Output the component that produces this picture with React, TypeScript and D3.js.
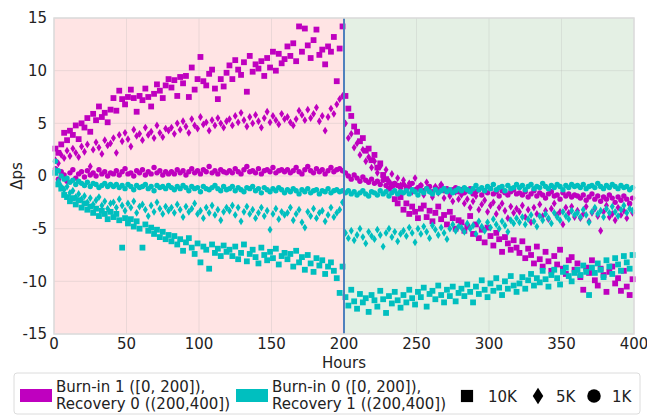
import React from "react";
import * as d3 from "d3";

// Sampling times (hours), one sample every 2 hours
const HOURS: number[] = d3.range(1, 400, 2);

const X_TICKS = [0, 50, 100, 150, 200, 250, 300, 350, 400];
const Y_TICKS = [15, 10, 5, 0, -5, -10, -15];

// Burn-in 1 ([0,200]), Recovery 0 ((200,400]) — magenta
const MAG_10K = [
  2.6, 2.2, 3.0, 4.1, 3.4, 4.3, 3.9, 4.8, 3.5, 5.0, 4.6, 5.5, 4.2, 5.9, 5.3, 6.6, 5.6, 6.0, 5.1, 6.3,
  7.4, 6.2, 8.1, 7.3, 6.8, 7.5, 8.2, 7.4, 6.1, 7.6, 7.2, 8.3, 7.5, 6.6, 7.8, 8.7, 8.1, 7.4, 8.6, 9.2,
  8.4, 9.1, 7.6, 9.4, 8.8, 9.5, 7.5, 10.3, 8.2, 9.2, 11.3, 9.0, 8.6, 9.7, 10.1, 8.3, 7.3, 9.2, 8.5, 9.8,
  10.5, 9.2, 11.0, 10.1, 9.6, 10.8, 8.0, 11.4, 9.9, 10.6, 10.2, 10.9, 9.5, 11.2, 10.3, 11.8, 10.0, 11.6, 10.7, 11.1,
  12.3, 11.4, 12.6, 10.9, 14.2, 11.8, 14.0, 12.4, 11.2, 12.9, 13.9, 11.5, 12.0, 10.6, 12.3, 11.8, 13.2, 9.0, 12.1, 14.2,
  7.6, 6.4, 5.7, 4.7, 4.2, 3.3, 3.6, 2.4, 2.6, 1.5, 2.0, 0.8, 1.2, 0.1, -0.3, -1.2, -0.8, -2.2, -2.6, -2.0,
  -3.2, -2.6, -3.6, -2.9, -3.4, -4.0, -3.1, -2.8, -3.9, -3.3, -4.3, -3.5, -2.9, -4.1, -3.7, -4.6, -3.4, -4.0, -5.0, -4.2,
  -4.4, -5.2, -4.8, -3.8, -5.5, -4.6, -5.9, -5.1, -6.3, -4.9, -5.7, -6.6, -5.4, -6.0, -7.2, -5.8, -6.4, -7.0, -6.1, -6.8,
  -7.3, -6.2, -7.8, -6.9, -7.5, -8.3, -6.7, -7.9, -8.6, -7.2, -8.1, -9.0, -7.6, -8.4, -7.0, -8.8, -9.3, -8.0, -7.7, -8.9,
  -8.3, -9.6, -10.8, -8.7, -9.2, -8.0, -9.9, -10.4, -8.8, -9.4, -11.0, -9.1, -8.6, -10.2, -9.7, -10.9, -9.0, -10.5, -11.3, -9.8,
];

const MAG_5K = [
  1.5, 1.2, 2.0, 1.7, 2.4, 1.9, 2.6, 2.2, 1.8, 2.8, 2.3, 3.0, 0.9, 2.5, 3.2, 2.7, 2.1, 3.4, 2.9, 3.1,
  3.6, 2.2, 3.9, 3.3, 4.1, 3.5, 2.8, 4.4, 3.8, 4.0, 3.4, 4.6, 3.9, 4.2, 3.6, 4.8, 4.1, 3.7, 4.5, 4.3,
  4.6, 4.0, 5.0, 4.4, 5.2, 4.7, 4.1, 5.4, 4.8, 4.5, 5.6, 4.9, 5.1, 4.3, 5.3, 4.8, 5.5, 5.0, 4.6, 5.2,
  5.4, 4.8, 5.7, 5.1, 6.0, 5.3, 4.7, 5.6, 5.0, 5.8, 5.2, 4.6, 5.5, 6.1, 5.1, 5.7, 5.3, 4.9, 5.9, 5.4,
  5.6, 5.1, 4.8, 5.4, 6.2, 5.8, 5.3, 6.3, 5.5, 5.9, 6.5, 5.2, 5.7, 4.3, 5.6, 6.4, 5.9, 6.8, 7.3, 7.6,
  5.0, 3.6, 4.0, 2.7, 3.1, 2.0, 2.5, 1.4, 1.8, 0.8, 1.4, 0.3, 0.9, -0.1, 0.6, -0.5, 0.2, -0.8, -0.2, -0.9,
  -0.4, -1.1, -0.7, -1.5, -0.2, -1.2, -0.9, -1.8, -0.6, -1.4, -2.0, -1.0, -1.6, -0.8, -2.1, -1.3, -1.9, -2.4, -1.5, -2.2,
  -1.8, -2.6, -2.2, -3.0, -2.4, -1.9, -3.2, -2.7, -2.3, -3.4, -2.8, -2.5, -3.6, -3.0, -2.6, -3.3, -4.0, -2.9, -3.5, -3.1,
  -3.4, -2.8, -3.9, -3.2, -4.4, -3.0, -3.6, -2.7, -3.8, -3.3, -4.1, -3.1, -2.6, -3.7, -3.4, -4.6, -3.0, -3.5, -2.9, -3.9,
  -3.3, -4.0, -3.6, -2.9, -4.3, -3.5, -3.1, -3.8, -5.2, -3.4, -2.8, -3.9, -3.6, -4.2, -3.0, -3.7, -3.3, -4.0, -2.7, -3.5,
];

const MAG_1K = [
  0.7, -0.3, 0.4, 0.1, -0.5, 0.3, 0.6, -0.2, 0.2, 0.4, -0.1, 0.5, 0.1, 0.3, 0.0, 0.6, 0.2, 0.4, 0.0, 0.3,
  0.2, 0.5, 0.1, 0.4, 0.7, 0.2, 0.3, 0.0, 0.5, 0.3, 0.6, 0.1, 0.4, 0.2, 0.8, 0.3, 0.5, 0.1, 0.4, 0.2,
  0.4, 0.2, 0.6, 0.3, 0.5, 0.1, 0.4, 0.7, 0.3, 0.5, 0.2, 0.6, 0.4, 0.9, 0.3, 0.5, 0.2, 0.6, 0.4, 0.3,
  0.5, 0.3, 0.7, 0.4, 0.2, 0.6, 0.9, 0.4, 0.5, 0.3, 0.7, 0.2, 0.5, 0.6, 0.4, 0.8, 0.3, 0.5, 0.6, 0.4,
  0.6, 0.3, 0.5, 0.8, 0.4, 0.2, 0.6, 0.9, 0.5, 0.3, 0.7, 0.4, 0.6, 0.2, 0.5, 0.8, 0.4, 0.6, 0.7, 0.5,
  0.3, 0.0, -0.3, 0.1, -0.2, -0.5, -0.1, -0.4, -0.6, -0.3, -0.7, -0.5, -0.8, -0.4, -0.9, -0.6, -1.0, -0.7, -0.9, -1.1,
  -0.8, -1.2, -1.0, -0.7, -1.3, -1.1, -0.9, -1.4, -1.2, -1.0, -1.5, -1.1, -1.3, -0.9, -1.4, -1.2, -1.6, -1.3, -1.1, -1.5,
  -1.3, -1.6, -1.4, -1.2, -1.7, -1.5, -1.3, -1.8, -1.4, -1.6, -1.2, -1.7, -1.5, -1.9, -1.4, -1.6, -1.8, -1.5, -1.3, -1.7,
  -1.6, -1.8, -1.5, -2.0, -1.7, -1.4, -1.9, -1.6, -1.8, -2.1, -1.7, -1.5, -1.9, -1.8, -2.2, -1.6, -1.9, -1.7, -2.0, -1.8,
  -1.9, -2.1, -1.8, -2.3, -2.0, -1.7, -2.2, -1.9, -2.4, -2.0, -2.2, -1.8, -2.1, -2.5, -2.0, -2.3, -1.9, -2.2, -2.6, -2.1,
];

// Burn-in 0 ([0,200]), Recovery 1 ((200,400]) — cyan
const CYAN_10K = [
  0.3, -0.8, -1.2, -1.8, -2.0, -2.4, -2.1, -2.7, -2.3, -3.0, -2.6, -3.2, -2.9, -3.5, -3.1, -3.8, -3.3, -3.6, -4.1, -3.4,
  -3.9, -3.6, -4.2, -6.8, -4.0, -4.5, -4.1, -4.8, -4.3, -5.0, -6.8, -4.6, -5.2, -4.9, -5.5, -5.1, -5.8, -5.3, -6.0, -5.6,
  -6.2, -5.7, -6.5, -6.0, -7.1, -6.3, -5.9, -6.8, -7.4, -6.4, -8.2, -6.7, -7.0, -8.8, -6.5, -7.3, -6.9, -7.6, -6.6, -7.2,
  -7.0, -7.6, -6.7, -7.9, -7.3, -6.5, -8.1, -7.4, -7.0, -7.7, -8.3, -6.8, -7.5, -8.0, -7.2, -7.8, -6.9, -8.4, -7.6, -7.3,
  -7.9, -7.4, -8.6, -7.1, -8.2, -7.7, -8.9, -7.5, -8.3, -9.1, -7.8, -8.5, -8.0, -9.3, -8.6, -8.2, -9.0, -9.7, -11.1, -8.6,
  -11.5, -12.3, -10.8, -11.9, -12.6, -11.2, -12.0, -11.6, -12.9, -11.3, -11.8, -12.4, -10.9, -11.7, -13.0, -11.4, -12.1, -11.0, -11.8, -12.5,
  -11.3, -12.0, -10.8, -11.6, -12.2, -11.0, -11.5, -10.6, -12.4, -11.2, -10.9, -11.7, -10.4, -11.3, -12.0, -10.8, -11.4, -10.5, -11.9, -11.1,
  -10.7, -11.4, -10.3, -11.0, -12.0, -10.5, -11.2, -9.9, -10.8, -11.5, -10.2, -10.9, -9.7, -10.6, -11.3, -10.0, -10.7, -9.5, -10.4, -11.0,
  -10.2, -9.6, -10.7, -9.9, -9.3, -10.4, -9.7, -10.1, -9.0, -9.8, -10.5, -9.4, -8.9, -9.7, -10.3, -9.1, -8.7, -9.5, -10.0, -9.2,
  -8.9, -9.4, -8.5, -9.1, -11.3, -8.7, -9.2, -8.3, -8.9, -9.6, -8.0, -8.6, -9.3, -7.8, -8.4, -9.0, -7.6, -8.2, -8.8, -7.5,
];

const CYAN_5K = [
  0.5, -0.5, -1.0, -1.3, -1.0, -1.6, -1.4, -2.0, -1.7, -2.2, -1.9, -2.5, -2.1, -2.7, -2.3, -2.0, -2.8, -2.4, -3.1, -2.6,
  -2.5, -3.0, -2.2, -2.8, -3.3, -2.6, -3.0, -2.4, -3.5, -2.9, -2.7, -3.2, -3.8, -2.8, -3.4, -2.5, -3.1, -3.6, -2.9, -3.3,
  -3.0, -3.5, -2.7, -3.2, -3.9, -2.9, -3.4, -3.1, -2.6, -3.6, -3.3, -4.0, -3.0, -3.5, -2.8, -3.7, -3.2, -4.2, -3.4, -3.0,
  -3.3, -2.8, -3.7, -3.0, -4.3, -3.4, -2.9, -3.6, -3.2, -4.0, -3.5, -3.0, -3.8, -3.3, -5.1, -3.6, -3.1, -4.1, -3.4, -3.7,
  -3.5, -3.0, -4.2, -3.6, -3.2, -4.4, -4.9, -3.4, -3.8, -3.1, -4.0, -3.5, -3.3, -4.3, -3.7, -3.0, -3.9, -3.5, -3.2, -2.5,
  -5.4, -5.9, -5.2, -6.1, -5.6, -5.0, -5.8, -6.4, -5.3, -5.7, -6.0, -5.1, -5.6, -6.7, -5.4, -5.0, -5.8, -5.3, -6.2, -5.5,
  -5.2, -5.7, -4.9, -5.4, -6.3, -5.0, -5.5, -4.8, -5.3, -5.9, -4.7, -5.1, -5.6, -4.9, -5.4, -6.0, -5.0, -4.6, -5.2, -4.8,
  -4.9, -5.3, -4.5, -5.0, -4.7, -5.5, -4.3, -4.8, -5.2, -4.4, -4.9, -4.1, -4.6, -5.0, -4.3, -4.7, -5.3, -4.2, -4.5, -4.0,
  -4.4, -3.9, -4.6, -4.1, -3.7, -4.3, -4.8, -3.8, -4.2, -3.6, -4.0, -4.5, -3.5, -3.9, -4.2, -3.4, -3.8, -4.1, -3.3, -3.7,
  -3.5, -3.9, -3.2, -3.7, -4.4, -3.4, -3.0, -3.6, -3.3, -3.9, -3.1, -3.5, -2.9, -3.4, -3.8, -3.2, -2.8, -3.5, -3.1, -3.3,
];

const CYAN_1K = [
  1.4, 0.5, 0.0, -0.3, -0.2, -0.6, -0.4, -0.8, -0.5, -0.7, -0.9, -0.6, -1.0, -0.7, -0.8, -1.1, -0.9, -0.7, -1.0, -0.8,
  -1.0, -0.8, -1.1, -0.9, -1.2, -0.8, -1.0, -1.3, -0.9, -1.1, -1.0, -0.8, -1.2, -1.0, -1.4, -0.9, -1.1, -1.0, -1.2, -0.9,
  -1.1, -1.3, -1.0, -1.2, -0.9, -1.1, -1.4, -1.0, -1.2, -1.1, -1.5, -1.0, -1.2, -1.3, -1.1, -0.9, -1.2, -1.4, -1.0, -1.3,
  -1.2, -1.0, -1.4, -1.1, -1.3, -1.5, -1.1, -1.2, -1.0, -1.4, -1.2, -1.6, -1.1, -1.3, -1.5, -1.2, -1.4, -1.1, -1.3, -1.6,
  -1.3, -1.5, -1.2, -1.4, -1.7, -1.3, -1.5, -1.2, -1.6, -1.4, -1.3, -1.7, -1.4, -1.5, -1.2, -1.6, -1.4, -1.3, -1.5, -1.4,
  -1.6, -1.4, -1.7, -1.5, -1.8, -1.6, -1.4, -1.7, -1.9, -1.5, -1.6, -1.8, -1.4, -1.7, -1.5, -1.9, -1.6, -1.4, -1.7, -1.5,
  -1.6, -1.4, -1.7, -1.3, -1.5, -1.8, -1.4, -1.6, -1.2, -1.5, -1.7, -1.3, -1.6, -1.4, -1.2, -1.5, -1.3, -1.6, -1.4, -1.2,
  -1.4, -1.1, -1.3, -1.5, -1.2, -0.9, -1.3, -1.1, -1.4, -1.0, -1.2, -0.8, -1.3, -1.1, -1.0, -1.4, -0.9, -1.2, -1.1, -0.8,
  -1.1, -0.9, -1.3, -1.0, -0.8, -1.2, -1.0, -1.1, -0.7, -1.0, -1.2, -0.9, -1.1, -0.8, -1.0, -1.3, -0.9, -1.1, -0.8, -1.0,
  -0.9, -1.1, -0.8, -1.2, -1.0, -0.9, -1.1, -0.7, -1.0, -1.2, -0.9, -1.1, -0.8, -1.0, -1.2, -0.9, -1.1, -1.0, -1.3, -1.1,
];

const MAGENTA = "#bf00bf";
const CYAN = "#00bfbf";

type Marker = "square" | "diamond" | "circle";
const SERIES: { color: string; marker: Marker; values: number[] }[] = [
  { color: MAGENTA, marker: "square", values: MAG_10K },
  { color: MAGENTA, marker: "diamond", values: MAG_5K },
  { color: MAGENTA, marker: "circle", values: MAG_1K },
  { color: CYAN, marker: "square", values: CYAN_10K },
  { color: CYAN, marker: "diamond", values: CYAN_5K },
  { color: CYAN, marker: "circle", values: CYAN_1K },
];

const LEGEND_SERIES = [
  { color: MAGENTA, lines: ["Burn-in 1 ([0, 200]),", "Recovery 0 ((200,400])"] },
  { color: CYAN, lines: ["Burn-in 0 ([0, 200]),", "Recovery 1 ((200,400])"] },
];
const LEGEND_MARKERS: { marker: Marker; label: string }[] = [
  { marker: "square", label: "10K" },
  { marker: "diamond", label: "5K" },
  { marker: "circle", label: "1K" },
];

const W = 647;
const H = 416;
const M = { left: 54, right: 634, top: 18, bottom: 334 };
const FONT = "'DejaVu Sans', sans-serif";

function markerEl(m: Marker, cx: number, cy: number, color: string, key: string | number, s = 1) {
  if (m === "square") {
    const h = 2.9 * s;
    return <rect key={key} x={cx - h} y={cy - h} width={2 * h} height={2 * h} fill={color} />;
  }
  if (m === "diamond") {
    const w = 2.5 * s, hh = 3.9 * s;
    return (
      <path key={key} d={`M${cx},${cy - hh}L${cx + w},${cy}L${cx},${cy + hh}L${cx - w},${cy}Z`} fill={color} />
    );
  }
  return <circle key={key} cx={cx} cy={cy} r={2.7 * s} fill={color} />;
}

export default function App() {
  const x = d3.scaleLinear().domain([0, 400]).range([M.left, M.right]);
  const y = d3.scaleLinear().domain([-15, 15]).range([M.bottom, M.top]);

  const legSeriesX = [20, 236];
  const legMarkerX = [467, 538, 594];
  const legLabelX = [488, 556, 612];

  return (
    <svg width={W} height={H} style={{ position: "absolute", left: 0, top: 0, fontFamily: FONT }}>
      <rect x={0} y={0} width={W} height={H} fill="#fff" />
      {/* phase backgrounds */}
      <rect x={x(0)} y={M.top} width={x(200) - x(0)} height={M.bottom - M.top} fill="#ffe4e4" />
      <rect x={x(200)} y={M.top} width={x(400) - x(200)} height={M.bottom - M.top} fill="#e4f0e4" />
      {/* grid */}
      {X_TICKS.map((t) => (
        <line key={"gx" + t} x1={x(t)} x2={x(t)} y1={M.top} y2={M.bottom} stroke="#b0b0b0" strokeOpacity={0.25} strokeWidth={1} />
      ))}
      {Y_TICKS.map((t) => (
        <line key={"gy" + t} x1={M.left} x2={M.right} y1={y(t)} y2={y(t)} stroke="#b0b0b0" strokeOpacity={0.25} strokeWidth={1} />
      ))}
      {/* points */}
      {SERIES.map((s, si) => (
        <g key={"s" + si}>
          {s.values.map((v, i) => markerEl(s.marker, x(HOURS[i]), y(v), s.color, i))}
        </g>
      ))}
      {/* phase divider */}
      <line x1={x(200)} x2={x(200)} y1={M.top} y2={M.bottom} stroke="#4f81bd" strokeWidth={2} />
      {/* frame */}
      <rect x={M.left} y={M.top} width={M.right - M.left} height={M.bottom - M.top} fill="none" stroke="#dcdcdc" strokeWidth={1.5} />
      {/* tick labels */}
      {Y_TICKS.map((t) => (
        <text key={"yl" + t} x={M.left - 7} y={y(t)} dy="0.36em" textAnchor="end" fontSize={15} fill="#222">
          {t}
        </text>
      ))}
      {X_TICKS.map((t) => (
        <text key={"xl" + t} x={x(t)} y={349} textAnchor="middle" fontSize={15} fill="#222">
          {t}
        </text>
      ))}
      <text x={(M.left + M.right) / 2} y={368} textAnchor="middle" fontSize={15} fill="#222">
        Hours
      </text>
      <text transform={`translate(22,${(M.top + M.bottom) / 2}) rotate(-90)`} textAnchor="middle" fontSize={15} fill="#222">
        Δps
      </text>
      {/* legend */}
      <rect x={14} y={373} width={626} height={41} rx={3} fill="#fff" stroke="#dcdcdc" strokeWidth={1} />
      {LEGEND_SERIES.map((ls, i) => (
        <g key={"ls" + i}>
          <rect x={legSeriesX[i]} y={389} width={32} height={13} fill={ls.color} />
          <text fontSize={15} fill="#222">
            <tspan x={legSeriesX[i] + 36} y={392}>{ls.lines[0]}</tspan>
            <tspan x={legSeriesX[i] + 36} y={409}>{ls.lines[1]}</tspan>
          </text>
        </g>
      ))}
      {LEGEND_MARKERS.map((lm, i) => (
        <g key={"lm" + i}>
          {markerEl(lm.marker, legMarkerX[i], 396, "#000", "m" + i, lm.marker === "square" ? 2.1 : lm.marker === "diamond" ? 2.1 : 2.5)}
          <text x={legLabelX[i]} y={401.5} fontSize={15} fill="#222">{lm.label}</text>
        </g>
      ))}
    </svg>
  );
}
